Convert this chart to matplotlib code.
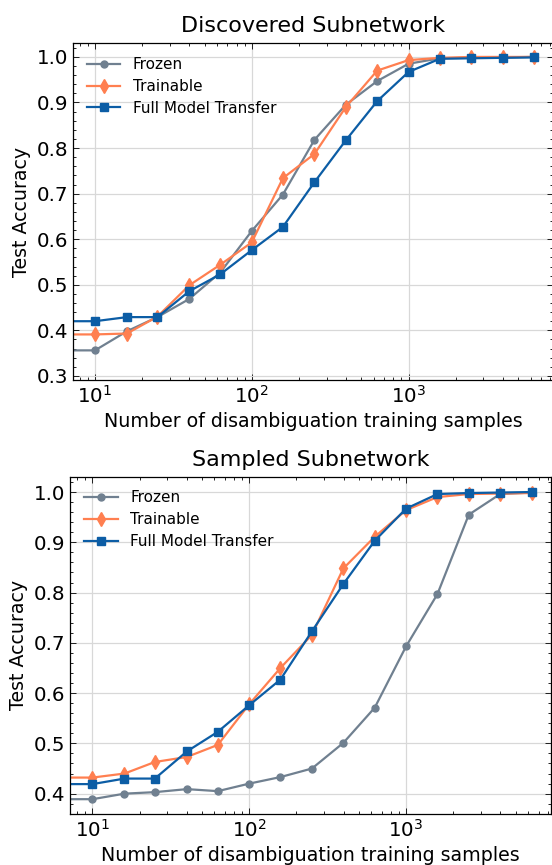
import matplotlib
matplotlib.use("Agg")
import matplotlib.pyplot as plt
from matplotlib.ticker import MultipleLocator, LogLocator, NullFormatter

# number of disambiguation training samples (0 = no samples)
n_samples = [0, 10, 16, 25, 40, 63, 100, 158, 251, 398, 631, 1000, 1585, 2512, 3981, 6310]

# Discovered Subnetwork
disc_frozen = [0.356, 0.356, 0.398, 0.429, 0.469, 0.527, 0.618, 0.698, 0.818, 0.895, 0.947, 0.985, 0.997, 0.998, 0.999, 1.0]
disc_trainable = [0.391, 0.391, 0.393, 0.430, 0.499, 0.544, 0.593, 0.734, 0.787, 0.890, 0.970, 0.993, 0.998, 1.0, 1.0, 1.0]
disc_full = [0.420, 0.420, 0.429, 0.429, 0.486, 0.523, 0.576, 0.627, 0.725, 0.817, 0.903, 0.967, 0.996, 0.997, 0.998, 0.999]

# Sampled Subnetwork
samp_frozen = [0.389, 0.389, 0.400, 0.403, 0.409, 0.405, 0.420, 0.433, 0.450, 0.501, 0.571, 0.693, 0.797, 0.955, 0.996, 0.999]
samp_trainable = [0.432, 0.432, 0.440, 0.463, 0.473, 0.497, 0.578, 0.650, 0.716, 0.848, 0.911, 0.964, 0.990, 0.996, 0.997, 0.998]
samp_full = [0.419, 0.419, 0.430, 0.430, 0.484, 0.523, 0.576, 0.627, 0.723, 0.817, 0.903, 0.967, 0.996, 0.998, 0.999, 1.0]

labels = ["Frozen", "Trainable", "Full Model Transfer"]
colors = ["#708090", "#FF7F50", "#0C5DA5"]
markers = ["o", "d", "s"]
msizes = [5, 7, 6]


def draw_panel(ax, series, title, ylim):
    for ys, lab, c, m, ms in zip(series, labels, colors, markers, msizes):
        ax.plot(n_samples, ys, color=c, marker=m, markersize=ms, linewidth=1.6, label=lab)
    ax.set_xscale("log")
    ax.set_xlim(7.24, 8340)
    ax.set_ylim(ylim)
    ax.yaxis.set_major_locator(MultipleLocator(0.1))
    ax.yaxis.set_minor_locator(MultipleLocator(0.02))
    ax.xaxis.set_major_locator(LogLocator(base=10))
    ax.xaxis.set_minor_locator(LogLocator(base=10, subs=range(2, 10)))
    ax.xaxis.set_minor_formatter(NullFormatter())
    ax.tick_params(which="both", direction="in", top=True, right=True, labelsize=14.3, width=0.6)
    ax.tick_params(which="major", length=4)
    ax.tick_params(which="minor", length=2)
    for s in ax.spines.values():
        s.set_linewidth(0.9)
    ax.grid(True, which="major", color="#d8d8d8", linewidth=0.9)
    ax.set_axisbelow(True)
    ax.set_title(title, fontsize=16, pad=8)
    ax.set_xlabel("Number of disambiguation training samples", fontsize=13.7)
    ax.set_ylabel("Test Accuracy", fontsize=13.7)
    ax.legend(loc="upper left", frameon=False, fontsize=11, handlelength=2.2,
              labelspacing=0.45, borderaxespad=0.5)


fig = plt.figure(figsize=(5.52, 8.65), dpi=100)
ax1 = fig.add_axes([0.1322, 0.5607, 0.8696, 0.3893])
ax2 = fig.add_axes([0.1277, 0.0590, 0.8696, 0.3899])

draw_panel(ax1, [disc_frozen, disc_trainable, disc_full], "Discovered Subnetwork", (0.291, 1.030))
draw_panel(ax2, [samp_frozen, samp_trainable, samp_full], "Sampled Subnetwork", (0.3596, 1.0305))

fig.savefig("out.png", dpi=100)
